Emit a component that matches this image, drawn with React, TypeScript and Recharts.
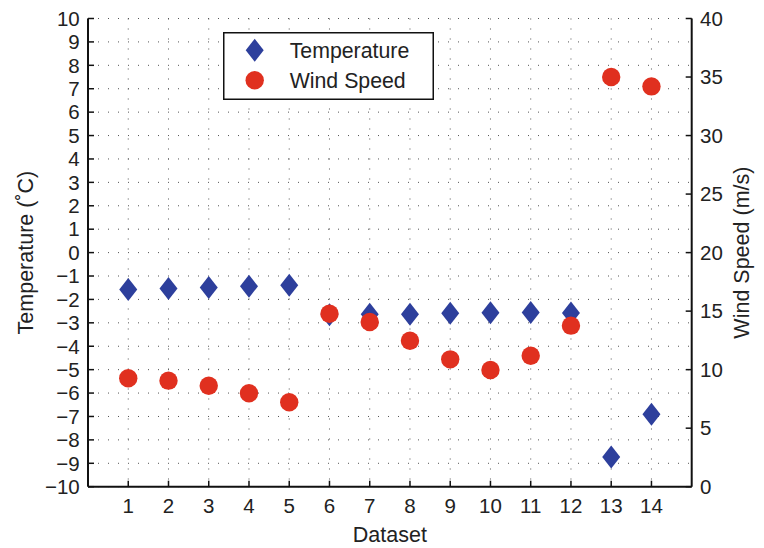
import React from 'react';
import { ScatterChart, Scatter, XAxis, YAxis, CartesianGrid, Legend } from 'recharts';

const datasets = [1, 2, 3, 4, 5, 6, 7, 8, 9, 10, 11, 12, 13, 14];
const temperature = [-1.58, -1.53, -1.49, -1.44, -1.4, -2.66, -2.63, -2.63, -2.59, -2.57, -2.56, -2.58, -8.73, -6.9];
const windSpeed = [9.26, 9.06, 8.63, 7.98, 7.21, 14.78, 14.07, 12.47, 10.88, 9.97, 11.19, 13.76, 35.0, 34.2];
const tempTicks = [-10, -9, -8, -7, -6, -5, -4, -3, -2, -1, 0, 1, 2, 3, 4, 5, 6, 7, 8, 9, 10];
const windTicks = [0, 5, 10, 15, 20, 25, 30, 35, 40];
const xTicks = datasets;

const tempData = datasets.map((d, i) => ({ x: d, temp: temperature[i] }));
const windData = datasets.map((d, i) => ({ x: d, wind: windSpeed[i] }));

const BLUE = '#2d3f9c';
const RED = '#e0301f';
const FONT = '"Liberation Sans", Arial, Helvetica, sans-serif';

const fmt = (v: number) => (v < 0 ? '\u2212' + Math.abs(v) : String(v));

const Diamond = (props: any) => {
  const { cx, cy } = props;
  if (cx == null || cy == null) return null;
  return (
    <polygon
      points={`${cx},${cy - 11.5} ${cx + 9},${cy} ${cx},${cy + 11.5} ${cx - 9},${cy}`}
      fill={BLUE}
    />
  );
};

const Dot = (props: any) => {
  const { cx, cy } = props;
  if (cx == null || cy == null) return null;
  return <circle cx={cx} cy={cy} r={9.2} fill={RED} />;
};

const LegendBox = () => (
  <svg width={211} height={68} style={{ display: 'block' }}>
    <rect x={0.75} y={0.75} width={209.5} height={66.5} fill="#fff" stroke="#111" strokeWidth={1.5} />
    <polygon points={`31.7,${18.3 - 11.5} 40.7,18.3 31.7,${18.3 + 11.5} 22.7,18.3`} fill={BLUE} />
    <circle cx={31.7} cy={48.3} r={9.2} fill={RED} />
    <text x={66.7} y={18.3} dy="0.36em" fontSize={21.3} fill="#222" fontFamily={FONT}>Temperature</text>
    <text x={66.7} y={48.3} dy="0.36em" fontSize={21.3} fill="#222" fontFamily={FONT}>Wind Speed</text>
  </svg>
);

export default function App() {
  const tickStyle = { fontSize: 20.5, fill: '#222', fontFamily: FONT };
  return (
    <div style={{ fontFamily: FONT }}>
      <ScatterChart
        width={756}
        height={540}
        margin={{ top: 10.5, right: 0.3, left: 0, bottom: 0.3 }}
        style={{ fontFamily: FONT }}
      >
        <CartesianGrid
          xAxisId="bottom"
          yAxisId="left"
          stroke="#555"
          strokeDasharray="1 9"
          strokeWidth={1}
        />
        <XAxis
          xAxisId="bottom"
          type="number"
          dataKey="x"
          domain={[0, 15]}
          ticks={xTicks}
          allowDecimals={false}
          orientation="bottom"
          height={61}
          tickSize={-6}
          tickMargin={17.8}
          tick={tickStyle}
          axisLine={{ stroke: '#111', strokeWidth: 2 }}
          tickLine={{ stroke: '#111', strokeWidth: 1.5 }}
          label={{ value: 'Dataset', position: 'insideBottom', offset: 5.5, fontSize: 21.5, fill: '#222', fontFamily: FONT }}
        />
        <XAxis
          xAxisId="top"
          type="number"
          dataKey="x"
          domain={[0, 15]}
          ticks={xTicks}
          orientation="top"
          height={0}
          tickSize={-6}
          tick={false}
          axisLine={{ stroke: '#111', strokeWidth: 2 }}
          tickLine={{ stroke: '#111', strokeWidth: 1.5 }}
        />
        <YAxis
          yAxisId="left"
          type="number"
          dataKey="temp"
          domain={[-10, 10]}
          ticks={tempTicks}
          orientation="left"
          width={80}
          tickSize={-6}
          tickMargin={14.3}
          tickFormatter={fmt}
          tick={tickStyle}
          interval={0}
          axisLine={{ stroke: '#111', strokeWidth: 2 }}
          tickLine={{ stroke: '#111', strokeWidth: 1.5 }}
          label={{
            value: 'Temperature (\u02DAC)',
            angle: -90,
            position: 'insideLeft',
            offset: 17,
            fontSize: 21.5,
            fill: '#222',
            fontFamily: FONT,
            style: { textAnchor: 'middle' },
          }}
        />
        <YAxis
          yAxisId="leftMirror"
          type="number"
          domain={[-10, 10]}
          ticks={tempTicks}
          orientation="right"
          width={0}
          tickSize={-6}
          tick={false}
          interval={0}
          axisLine={false}
          tickLine={{ stroke: '#111', strokeWidth: 1.5 }}
        />
        <YAxis
          yAxisId="right"
          type="number"
          dataKey="wind"
          domain={[0, 40]}
          ticks={windTicks}
          orientation="right"
          width={72}
          tickSize={-6}
          tickMargin={14.3}
          tick={tickStyle}
          interval={0}
          axisLine={{ stroke: '#111', strokeWidth: 2 }}
          tickLine={{ stroke: '#111', strokeWidth: 1.5 }}
          label={{
            value: 'Wind Speed (m/s)',
            angle: -90,
            position: 'insideRight',
            offset: 22.7,
            fontSize: 21.5,
            fill: '#222',
            fontFamily: FONT,
            style: { textAnchor: 'middle' },
          }}
        />
        <Legend
          layout="horizontal"
          verticalAlign="middle"
          align="center"
          content={() => <LegendBox />}
          wrapperStyle={{ position: 'absolute', left: 215.3, top: 23.7, width: 211, height: 68 }}
        />
        <Scatter
          name="Temperature"
          data={tempData}
          dataKey="temp"
          xAxisId="bottom"
          yAxisId="left"
          shape={<Diamond />}
          isAnimationActive={false}
        />
        <Scatter
          name="Wind Speed"
          data={windData}
          dataKey="wind"
          xAxisId="bottom"
          yAxisId="right"
          shape={<Dot />}
          isAnimationActive={false}
        />
      </ScatterChart>
    </div>
  );
}
